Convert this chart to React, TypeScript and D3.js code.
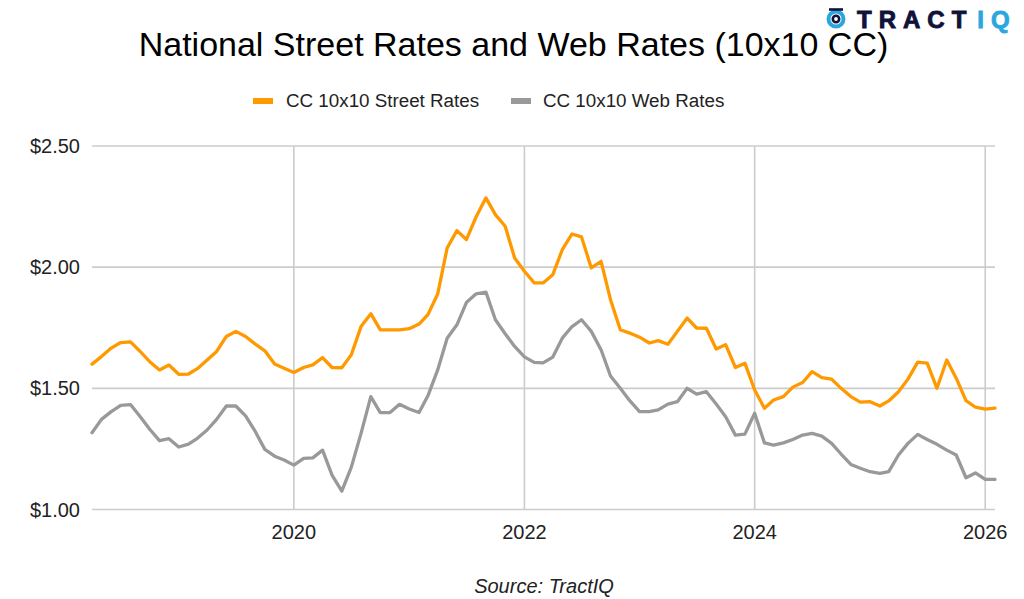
import React from "react";
import * as d3 from "d3";

const startMonth = "2018-04-01";
const endMonth = "2026-02-01";

const streetRates = [
  1.600, 1.631, 1.666, 1.689, 1.692, 1.652, 1.610, 1.576, 1.596,
  1.558, 1.559, 1.581, 1.617, 1.652, 1.714, 1.735, 1.714, 1.682, 1.655, 1.600, 1.583,
  1.565, 1.586, 1.597, 1.627, 1.586, 1.585, 1.638, 1.755, 1.808, 1.741, 1.741, 1.741,
  1.746, 1.765, 1.804, 1.889, 2.079, 2.151, 2.114, 2.208, 2.286, 2.217, 2.169, 2.038,
  1.983, 1.935, 1.935, 1.969, 2.072, 2.137, 2.125, 1.997, 2.024, 1.866, 1.742, 1.728,
  1.711, 1.687, 1.697, 1.682, 1.735, 1.790, 1.749, 1.748, 1.662, 1.680, 1.586, 1.604,
  1.493, 1.418, 1.452, 1.466, 1.505, 1.524, 1.569, 1.544, 1.538, 1.500, 1.466, 1.443,
  1.445, 1.427, 1.448, 1.486, 1.538, 1.608, 1.604, 1.500, 1.617, 1.542, 1.449, 1.422,
  1.414, 1.418,
];

const webRates = [
  1.317, 1.372, 1.404, 1.430, 1.433, 1.383, 1.331, 1.284, 1.292,
  1.258, 1.270, 1.294, 1.328, 1.372, 1.427, 1.427, 1.386, 1.321, 1.248, 1.220, 1.204,
  1.183, 1.211, 1.213, 1.245, 1.142, 1.076, 1.174, 1.314, 1.466, 1.400, 1.400, 1.434,
  1.415, 1.400, 1.469, 1.576, 1.707, 1.762, 1.854, 1.890, 1.897, 1.783, 1.725, 1.673,
  1.630, 1.607, 1.605, 1.629, 1.707, 1.755, 1.783, 1.735, 1.659, 1.551, 1.500, 1.449,
  1.404, 1.404, 1.411, 1.435, 1.445, 1.500, 1.476, 1.486, 1.435, 1.383, 1.307, 1.311,
  1.397, 1.275, 1.266, 1.275, 1.289, 1.307, 1.314, 1.303, 1.273, 1.229, 1.186, 1.170,
  1.156, 1.149, 1.156, 1.225, 1.273, 1.310, 1.289, 1.269, 1.245, 1.225, 1.131, 1.151,
  1.124, 1.124,
];

const yTicks = [1.0, 1.5, 2.0, 2.5];
const xTickYears = [2020, 2022, 2024, 2026];

const seriesNames = ["CC 10x10 Street Rates", "CC 10x10 Web Rates"];
const seriesColors = ["#ff9900", "#999999"];

const W = 1024;
const H = 599;
const plot = { left: 92, right: 995, top: 146, bottom: 509.5 };
const FONT = "'Liberation Sans', Arial, sans-serif";

export default function App() {
  const parse = d3.timeParse("%Y-%m-%d");
  const t0 = parse(startMonth)!;
  const t1 = parse(endMonth)!;
  const months = d3.timeMonth.range(t0, d3.timeMonth.offset(t1, 1));

  const x = d3.scaleTime().domain([t0, t1]).range([plot.left, plot.right]);
  const y = d3.scaleLinear().domain([1, 2.5]).range([plot.bottom, plot.top]);

  const line = d3
    .line<number>()
    .x((_, i) => x(months[i]))
    .y((d) => y(d))
    .curve(d3.curveLinear);

  const series = [streetRates, webRates];
  const fmt = d3.format("$.2f");

  return (
    <svg
      width={W}
      height={H}
      viewBox={`0 0 ${W} ${H}`}
      style={{ position: "absolute", left: 0, top: 0, background: "#fff" }}
    >
      <rect x={0} y={0} width={W} height={H} fill="#fff" />
      {/* Logo */}
      <g>
        <circle cx={836} cy={19} r={7.5} fill="none" stroke="#2aa7df" strokeWidth={4} />
        <circle cx={836} cy={19} r={3.2} fill="none" stroke="#10123a" strokeWidth={2.6} />
        <path d="M829 9.5 L843 9.5" stroke="#10123a" strokeWidth={2.6} />
        <text
          x={857}
          y={28}
          fontFamily={FONT}
          fontWeight={900}
          fontSize={24}
          letterSpacing={7}
          fill="#10123a"
          stroke="#10123a"
          strokeWidth={0.9}
        >
          TRACT
          <tspan fill="#2aa7df" stroke="#2aa7df" dx={4}>IQ</tspan>
        </text>
      </g>

      {/* Title */}
      <text
        x={513.5}
        y={56}
        textAnchor="middle"
        fontFamily={FONT}
        fontSize={34}
        fill="#000"
      >
        National Street Rates and Web Rates (10x10 CC)
      </text>

      {/* Legend */}
      <g fontFamily={FONT} fontSize={18.8} fill="#222">
        <rect x={253} y={98} width={20} height={6} fill={seriesColors[0]} />
        <text x={286} y={107}>{seriesNames[0]}</text>
        <rect x={511} y={98} width={20} height={6} fill={seriesColors[1]} />
        <text x={543} y={107}>{seriesNames[1]}</text>
      </g>

      {/* Gridlines */}
      <g stroke="#cccccc" strokeWidth={1.6}>
        {yTicks.map((t) => (
          <line key={t} x1={plot.left} x2={plot.right} y1={y(t)} y2={y(t)} />
        ))}
        {xTickYears.map((yr) => {
          const xv = x(new Date(yr, 0, 1));
          return <line key={yr} x1={xv} x2={xv} y1={plot.top} y2={plot.bottom} />;
        })}
      </g>

      {/* Y axis labels */}
      <g fontFamily={FONT} fontSize={20} fill="#222" textAnchor="end">
        {yTicks.map((t) => (
          <text key={t} x={80} y={y(t) + 7}>
            {fmt(t)}
          </text>
        ))}
      </g>

      {/* X axis labels */}
      <g fontFamily={FONT} fontSize={20} fill="#222" textAnchor="middle">
        {xTickYears.map((yr) => (
          <text key={yr} x={x(new Date(yr, 0, 1))} y={539}>
            {yr}
          </text>
        ))}
      </g>

      {/* Lines */}
      {series.map((s, i) => (
        <path
          key={i}
          d={line(s) || ""}
          fill="none"
          stroke={seriesColors[i]}
          strokeWidth={3.3}
          strokeLinejoin="round"
          strokeLinecap="round"
        />
      ))}

      {/* Source */}
      <text
        x={544}
        y={593}
        textAnchor="middle"
        fontFamily={FONT}
        fontStyle="italic"
        fontSize={20}
        fill="#222"
      >
        Source: TractIQ
      </text>
    </svg>
  );
}
